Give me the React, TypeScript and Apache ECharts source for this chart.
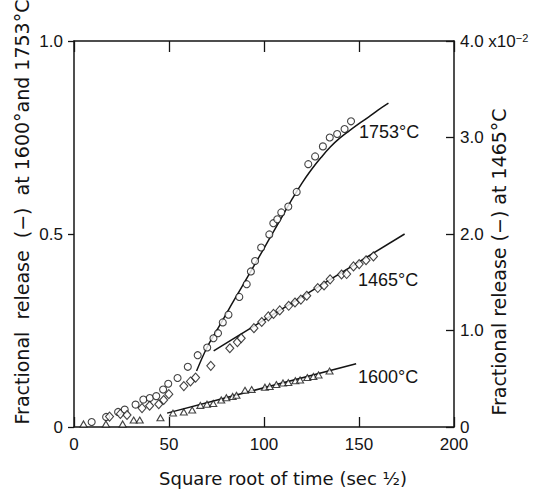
import React, { useEffect, useRef } from "react";
import * as echarts from "echarts";

// ---- axes ----
const xTicks = [0, 50, 100, 150, 200];
const xTickLabels = ["0", "50", "100", "150", "200"];
const leftTicks = [0, 0.5, 1.0];
const leftTickLabels = ["0", "0.5", "1.0"];
const rightTicks = [0, 1, 2, 3, 4];
const rightTickLabels = ["0", "1.0", "2.0", "3.0", "4.0 x10"];

// ---- 1753 °C (circles, left axis) ----
const circles1753X = [9.3, 16.9, 23.2, 26.7, 32.4, 36.5, 39.9, 43.3, 46.9, 49.6, 54.5, 59.9, 65.1, 70.1, 73.4, 75.8, 78.3, 81.3, 87.0, 90.9, 93.1, 95.3, 98.5, 102.8, 104.9, 107.0, 109.1, 112.8, 117.2, 123.3, 126.9, 131.0, 134.6, 138.5, 142.4, 145.8];
const circles1753Y = [0.013, 0.026, 0.039, 0.045, 0.058, 0.071, 0.075, 0.080, 0.097, 0.112, 0.127, 0.156, 0.186, 0.206, 0.230, 0.243, 0.271, 0.291, 0.337, 0.370, 0.403, 0.430, 0.465, 0.499, 0.528, 0.538, 0.556, 0.571, 0.609, 0.681, 0.701, 0.727, 0.750, 0.759, 0.772, 0.792];
const fit1753X = [64.5, 70, 75, 80, 85, 90, 95, 100, 105, 110, 115, 120, 125, 130, 135, 140, 145, 150, 155, 160, 165.5];
const fit1753Y = [0.145, 0.206, 0.249, 0.292, 0.335, 0.377, 0.420, 0.463, 0.506, 0.549, 0.592, 0.632, 0.667, 0.698, 0.726, 0.749, 0.768, 0.786, 0.803, 0.821, 0.839];

// ---- 1465 °C (diamonds, right axis, x10^-2) ----
const dia1465X = [18.7, 24.4, 27.9, 35.8, 39.8, 44.6, 47.2, 49.9, 57.8, 61.3, 64.0, 72.0, 82.0, 86.0, 88.0, 94.7, 98.8, 102.3, 105.0, 108.3, 113.0, 116.3, 119.4, 122.5, 128.3, 131.6, 134.8, 140.8, 143.5, 147.1, 150.1, 153.7, 157.6];
const dia1465Y = [0.108, 0.136, 0.124, 0.196, 0.22, 0.236, 0.28, 0.34, 0.424, 0.472, 0.512, 0.634, 0.816, 0.88, 0.92, 1.024, 1.088, 1.146, 1.172, 1.208, 1.256, 1.29, 1.32, 1.36, 1.44, 1.466, 1.53, 1.58, 1.585, 1.664, 1.688, 1.728, 1.768];
const fit1465X = [73.5, 174];
const fit1465Y = [0.79, 2.0];

// ---- 1600 °C (triangles, left axis) ----
const tri1600X = [5.0, 16.8, 25.6, 31.4, 34.6, 45.5, 52.1, 57.8, 62.2, 66.5, 70.0, 73.3, 77.5, 80.2, 83.5, 85.5, 90.0, 93.5, 100.5, 103.0, 106.5, 110.0, 112.8, 116.5, 119.0, 122.8, 126.0, 128.7, 134.5];
const tri1600Y = [0.008, 0.008, 0.008, 0.018, 0.018, 0.024, 0.036, 0.039, 0.044, 0.056, 0.059, 0.061, 0.070, 0.076, 0.079, 0.082, 0.095, 0.097, 0.103, 0.105, 0.110, 0.114, 0.115, 0.120, 0.122, 0.128, 0.131, 0.135, 0.145];
const fit1600X = [49, 148.5];
const fit1600Y = [0.036, 0.164];

const seriesLabels = ["1753°C", "1465°C", "1600°C"];

const ink = "#141414";
const numFont = "Liberation Sans";
const titleFont = "DejaVu Sans";

const zip = (xs: number[], ys: number[]) => xs.map((x, i) => [x, ys[i]]);

const findLabel = (ticks: number[], labels: string[], v: number) => {
  const i = ticks.findIndex((t) => Math.abs(t - v) < 1e-9);
  return i >= 0 ? labels[i] : "";
};

export default function App() {
  const ref = useRef<HTMLDivElement>(null);
  useEffect(() => {
    if (!ref.current) return;
    const chart = echarts.init(ref.current, undefined, { renderer: "svg" });
    const mkLine = () => ({ show: true, onZero: false, lineStyle: { color: ink, width: 1.5 } });
    const option: any = {
      animation: false,
      backgroundColor: "#fff",
      grid: { left: 74, right: 81, top: 41, bottom: 68, containLabel: false },
      xAxis: [
        {
          type: "value", min: 0, max: 200, interval: 50, position: "bottom",
          axisLine: mkLine(),
          axisTick: { show: true, inside: true, length: 10, lineStyle: { color: ink, width: 1.3 } },
          axisLabel: {
            color: ink, fontFamily: numFont, fontSize: 17, margin: 9,
            formatter: (v: number) => findLabel(xTicks, xTickLabels, v),
          },
          splitLine: { show: false },
        },
        {
          type: "value", min: 0, max: 200, interval: 50, position: "top",
          axisLine: mkLine(),
          axisTick: { show: true, inside: true, length: 11, lineStyle: { color: ink, width: 1.3 } },
          axisLabel: { show: false },
          splitLine: { show: false },
        },
      ],
      yAxis: [
        {
          type: "value", min: 0, max: 1, interval: 0.5, position: "left",
          axisLine: mkLine(),
          axisTick: { show: true, inside: false, length: 6, lineStyle: { color: ink, width: 1.3 } },
          axisLabel: {
            color: ink, fontFamily: numFont, fontSize: 17, margin: 11,
            formatter: (v: number) => findLabel(leftTicks, leftTickLabels, v),
          },
          splitLine: { show: false },
        },
        {
          type: "value", min: 0, max: 4, interval: 1, position: "right",
          axisLine: mkLine(),
          axisTick: { show: true, inside: true, length: 8, lineStyle: { color: ink, width: 1.3 } },
          axisLabel: {
            color: ink, fontFamily: numFont, fontSize: 17, margin: 6,
            formatter: (v: number) => {
              const s = findLabel(rightTicks, rightTickLabels, v);
              return v === 4 ? `{a|${s}}{s|−2}` : `{a|${s}}`;
            },
            rich: {
              a: { fontFamily: numFont, fontSize: 17, color: ink },
              s: { fontFamily: numFont, fontSize: 11, color: ink, verticalAlign: "top", padding: [0, 0, 6, 0] },
            },
          },
          splitLine: { show: false },
        },
      ],
      series: [
        {
          type: "line", data: zip(fit1753X, fit1753Y), smooth: 0.4, showSymbol: false,
          lineStyle: { color: ink, width: 1.5 }, silent: true, z: 2,
        },
        {
          type: "line", yAxisIndex: 1, data: zip(fit1465X, fit1465Y), showSymbol: false,
          lineStyle: { color: ink, width: 1.5 }, silent: true, z: 2,
        },
        {
          type: "line", data: zip(fit1600X, fit1600Y), showSymbol: false,
          lineStyle: { color: ink, width: 1.5 }, silent: true, z: 2,
        },
        {
          name: seriesLabels[0], type: "scatter", data: zip(circles1753X, circles1753Y),
          symbol: "circle", symbolSize: 7,
          itemStyle: { color: "#fff", borderColor: ink, borderWidth: 1.1 }, z: 3,
        },
        {
          name: seriesLabels[1], type: "scatter", yAxisIndex: 1, data: zip(dia1465X, dia1465Y),
          symbol: "diamond", symbolSize: [8, 9],
          itemStyle: { color: "#fff", borderColor: ink, borderWidth: 1.1 }, z: 3,
        },
        {
          name: seriesLabels[2], type: "scatter", data: zip(tri1600X, tri1600Y),
          symbol: "triangle", symbolSize: [7, 6],
          itemStyle: { color: "#fff", borderColor: ink, borderWidth: 1.1 }, z: 3,
        },
      ],
      graphic: [
        {
          type: "text", left: 359, top: 123,
          style: { text: seriesLabels[0], fill: ink, font: `18px '${numFont}'` },
        },
        {
          type: "text", left: 358, top: 271,
          style: { text: seriesLabels[1], fill: ink, font: `18px '${numFont}'` },
        },
        {
          type: "text", left: 358, top: 368,
          style: { text: seriesLabels[2], fill: ink, font: `18px '${numFont}'` },
        },
        {
          type: "text", x: 22, y: 212, rotation: Math.PI / 2,
          style: {
            text: "Fractional  release  (−)  at 1600°and 1753°C",
            fill: ink, font: `19px '${titleFont}'`, align: "center", verticalAlign: "middle",
          },
        },
        {
          type: "text", x: 499, y: 262, rotation: Math.PI / 2,
          style: {
            text: "Fractional release (−) at 1465°C",
            fill: ink, font: `19px '${titleFont}'`, align: "center", verticalAlign: "middle",
          },
        },
        {
          type: "text", x: 283, y: 478,
          style: {
            text: "Square root of time (sec ½)",
            fill: ink, font: `18px '${titleFont}'`, align: "center", verticalAlign: "middle",
          },
        },
      ],
    };
    chart.setOption(option);
    return () => chart.dispose();
  }, []);
  return (
    <div style={{ position: "absolute", left: 0, top: 0, width: 535, height: 495, background: "#fff" }}>
      <div ref={ref} style={{ width: 535, height: 495 }} />
    </div>
  );
}
